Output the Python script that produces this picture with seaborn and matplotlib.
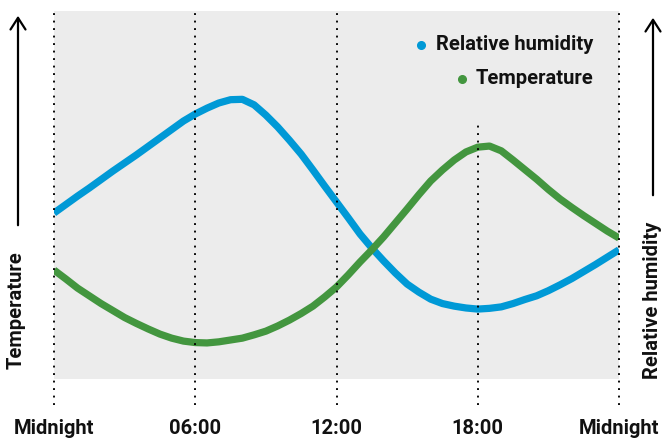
import matplotlib
matplotlib.use("Agg")
import matplotlib.pyplot as plt
import numpy as np
import pandas as pd
import seaborn as sns
from matplotlib.lines import Line2D

# ---- data (every half hour; arbitrary units 0-100) ----
hours = [i / 2 for i in range(49)]
humidity = [45.1, 47.4, 49.7, 51.9, 54.2, 56.5, 58.7, 60.9, 63.2, 65.5, 67.8, 70.1, 72.0,
            73.6, 75.0, 75.9, 76.0, 74.5, 71.7, 68.5, 64.9, 61.1, 56.8, 52.4, 48.1,
            43.8, 39.4, 35.6, 32.1, 28.8, 25.8, 23.6, 21.7, 20.5, 19.8, 19.3, 19.0,
            19.2, 19.6, 20.5, 21.6, 22.6, 24.0, 25.6, 27.3, 29.2, 31.1, 33.1, 35.1]
temperature = [29.6, 27.2, 24.7, 22.6, 20.5, 18.6, 16.7, 15.1, 13.6, 12.2, 11.1, 10.3, 9.9,
               9.8, 10.1, 10.6, 11.1, 12.0, 13.0, 14.4, 16.0, 17.8, 19.8, 22.3, 25.0,
               28.3, 31.8, 35.1, 38.6, 42.4, 46.2, 50.1, 53.8, 56.8, 59.5, 61.7, 63.0,
               63.3, 62.0, 59.5, 56.9, 54.3, 51.5, 48.9, 46.6, 44.4, 42.3, 40.2, 38.3]
series_names = ["Relative humidity", "Temperature"]
tick_positions = [0, 6, 12, 18, 24]
tick_labels = ["Midnight", "06:00", "12:00", "18:00", "Midnight"]
guide_tops = [100, 100, 100, 69.6, 100]
left_label = "Temperature"
right_label = "Relative humidity"

colors = ["#0099d6", "#43963f"]

df = pd.DataFrame({
    "hour": hours * 2,
    "value": humidity + temperature,
    "series": [series_names[0]] * len(hours) + [series_names[1]] * len(hours),
})

sns.set_theme(style="white")
plt.rcParams["font.family"] = ["Roboto", "DejaVu Sans"]

W, H = 663, 441
FS = 14.5
fig = plt.figure(figsize=(W / 100, H / 100), dpi=100)
fx = lambda x: x / W
fy = lambda y: 1 - y / H

ax = fig.add_axes([fx(54), fy(379), fx(619) - fx(54), fy(11) - fy(379)])
ax.set_facecolor("#ececec")

sns.lineplot(data=df, x="hour", y="value", hue="series", palette=colors,
             linewidth=5.2, ax=ax, legend=False, zorder=2,
             solid_capstyle="butt", solid_joinstyle="round")

ax.set_xlim(0, 24)
ax.set_ylim(0, 100)
for s in ax.spines.values():
    s.set_visible(False)
ax.set_yticks([])
ax.set_xticks(tick_positions)
ax.set_xticklabels(tick_labels, fontweight="bold", fontsize=FS, color="#111111")
ax.tick_params(axis="x", length=0, pad=29)
ax.set_xlabel("")
ax.set_ylabel("")

# dotted guide lines
for xp, top in zip(tick_positions, guide_tops):
    ax.vlines(xp, -7.1, top, colors="black", linestyles=(0, (1, 3)),
              linewidth=1.35, clip_on=False, zorder=3)

# legend (right-aligned text, dot markers)
leg_y = [45, 79]
dot_x = [421, 462]
for name, c, yy, dx in zip(series_names, colors, leg_y, dot_x):
    fig.text(fx(593), fy(yy), name, ha="right", va="center", fontsize=FS,
             fontweight="bold", color="#111111")
    fig.add_artist(Line2D([fx(dx)], [fy(yy)], marker="o", markersize=5.5,
                          color=c, linestyle="none", transform=fig.transFigure))

# axis arrows and rotated labels
ax.annotate("", xy=(18, H - 13), xytext=(18, H - 228), xycoords="figure pixels",
            textcoords="figure pixels",
            arrowprops=dict(arrowstyle="->,head_length=0.7,head_width=0.45", lw=1.6, color="black"))
ax.annotate("", xy=(653, H - 15), xytext=(653, H - 198), xycoords="figure pixels",
            textcoords="figure pixels",
            arrowprops=dict(arrowstyle="->,head_length=0.7,head_width=0.45", lw=1.6, color="black"))
fig.text(fx(16), fy(310), left_label, rotation=90, ha="center", va="center",
         fontsize=FS, fontweight="bold", color="#111111")
fig.text(fx(653), fy(300), right_label, rotation=90, ha="center", va="center",
         fontsize=FS, fontweight="bold", color="#111111")

fig.savefig("out.png", dpi=100, facecolor="white")
